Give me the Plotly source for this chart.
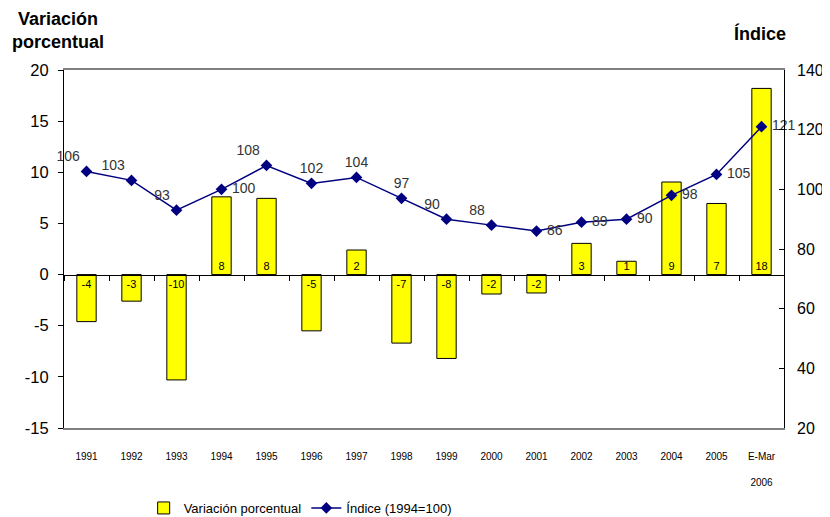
import plotly.graph_objects as go

categories = ["1991", "1992", "1993", "1994", "1995", "1996", "1997", "1998",
              "1999", "2000", "2001", "2002", "2003", "2004", "2005", "E-Mar 2006"]
tick_labels = ["1991", "1992", "1993", "1994", "1995", "1996", "1997", "1998",
               "1999", "2000", "2001", "2002", "2003", "2004", "2005", "E-Mar<br><br>2006"]
variacion = [-4.6, -2.6, -10.3, 7.6, 7.45, -5.5, 2.4, -6.7,
             -8.2, -1.9, -1.8, 3.05, 1.3, 9.05, 6.95, 18.2]
variacion_labels = ["-4", "-3", "-10", "8", "8", "-5", "2", "-7",
                    "-8", "-2", "-2", "3", "1", "9", "7", "18"]
indice = [106, 103, 93, 100, 108, 102, 104, 97, 90, 88, 86, 89, 90, 98, 105, 121]
indice_textpos = ["top left", "top left", "top left", "middle right", "top left",
                  "top center", "top center", "top center", "top left", "top left",
                  "middle right", "middle right", "middle right", "middle right",
                  "middle right", "middle right"]
left_ticks = [-15, -10, -5, 0, 5, 10, 15, 20]
left_ticktext = ["-15", "-10", "-5", "0", "5", "10", "15", "20"]
right_ticks = [20, 40, 60, 80, 100, 120, 140]

SANS = "Liberation Sans, Arial, sans-serif"

# labels placed to the right of a point get a little extra gap, as in the source
indice_templates = [("\u00a0%{y}" if p == "middle right" else "%{y}") for p in indice_textpos]

fig = go.Figure()
fig.add_trace(go.Bar(
    x=categories, y=variacion, name="Variación porcentual",
    marker=dict(color="#FFFF00", line=dict(color="#000000", width=1)),
    width=0.43,
    text=variacion_labels, textposition="inside", insidetextanchor="start",
    textangle=0, textfont=dict(family=SANS, size=11, color="#000000"),
    cliponaxis=False,
    xaxis="x", yaxis="y",
))
fig.add_trace(go.Scatter(
    x=categories, y=indice, name="Índice (1994=100)",
    mode="lines+markers+text",
    line=dict(color="#000080", width=1.5),
    marker=dict(symbol="diamond", size=9, color="#000080"),
    texttemplate=indice_templates, textposition=indice_textpos,
    textfont=dict(family=SANS, size=14, color="#333333"),
    cliponaxis=False,
    xaxis="x", yaxis="y2",
))
# invisible trace to carry the category axis drawn at zero
fig.add_trace(go.Scatter(
    x=categories, y=[0] * len(categories), mode="none", showlegend=False,
    hoverinfo="skip", xaxis="x2", yaxis="y",
))

zero_pos = (0 - (-15)) / (20 - (-15))
x_range = [-0.5, len(categories) - 0.5]

fig.update_layout(
    width=822, height=509,
    margin=dict(l=56, r=46, t=62, b=89),
    plot_bgcolor="white", paper_bgcolor="white",
    showlegend=True,
    uniformtext=dict(mode="show", minsize=11),
    xaxis=dict(
        type="category", categoryorder="array", categoryarray=categories,
        tickmode="array", tickvals=categories, ticktext=tick_labels,
        showline=True, linecolor="#808080", linewidth=1.5, mirror=True,
        ticks="", showgrid=False, zeroline=False, automargin=False,
        tickfont=dict(family=SANS, size=10, color="#000000"),
        ticklabelstandoff=18,
        range=x_range, autorange=False,
    ),
    xaxis2=dict(
        type="category", categoryorder="array", categoryarray=categories,
        overlaying="x", anchor="free", position=zero_pos,
        range=x_range, autorange=False,
        showline=True, linecolor="#000000", linewidth=1,
        ticks="outside", ticklen=5, tickcolor="#000000", tickson="boundaries",
        showticklabels=False, showgrid=False, zeroline=False, automargin=False,
    ),
    yaxis=dict(
        range=[-15, 20], autorange=False,
        tickmode="array", tickvals=left_ticks, ticktext=left_ticktext,
        showline=True, linecolor="#000000", linewidth=1, mirror=True,
        ticks="outside", ticklen=5, tickcolor="#000000",
        showgrid=False, zeroline=False, automargin=False,
        tickfont=dict(family=SANS, size=16.5, color="#000000"),
        ticklabelstandoff=6,
    ),
    yaxis2=dict(
        range=[20, 140], autorange=False, tickmode="array", tickvals=right_ticks,
        overlaying="y", side="right", anchor="x",
        showline=False,
        ticks="inside", ticklen=5, tickcolor="#000000",
        showgrid=False, zeroline=False, automargin=False,
        tickfont=dict(family=SANS, size=16, color="#000000"),
        ticklabelstandoff=12,
    ),
    legend=dict(
        orientation="h", x=0.328, xanchor="center",
        yref="container", y=0.0177, yanchor="middle",
        font=dict(family=SANS, size=13, color="#000000"),
        itemwidth=30, traceorder="normal",
    ),
    annotations=[
        dict(text="<b>Variación<br>porcentual</b>", xref="paper", yref="paper",
             x=-0.0083, y=1.109, xanchor="center", yanchor="middle", showarrow=False,
             font=dict(family=SANS, size=18, color="#000000"), align="center"),
        dict(text="<b>Índice</b>", xref="paper", yref="paper",
             x=0.9667, y=1.103, xanchor="center", yanchor="middle", showarrow=False,
             font=dict(family=SANS, size=18, color="#000000")),
    ],
)

fig.write_html("out.html", config={"displayModeBar": False})
